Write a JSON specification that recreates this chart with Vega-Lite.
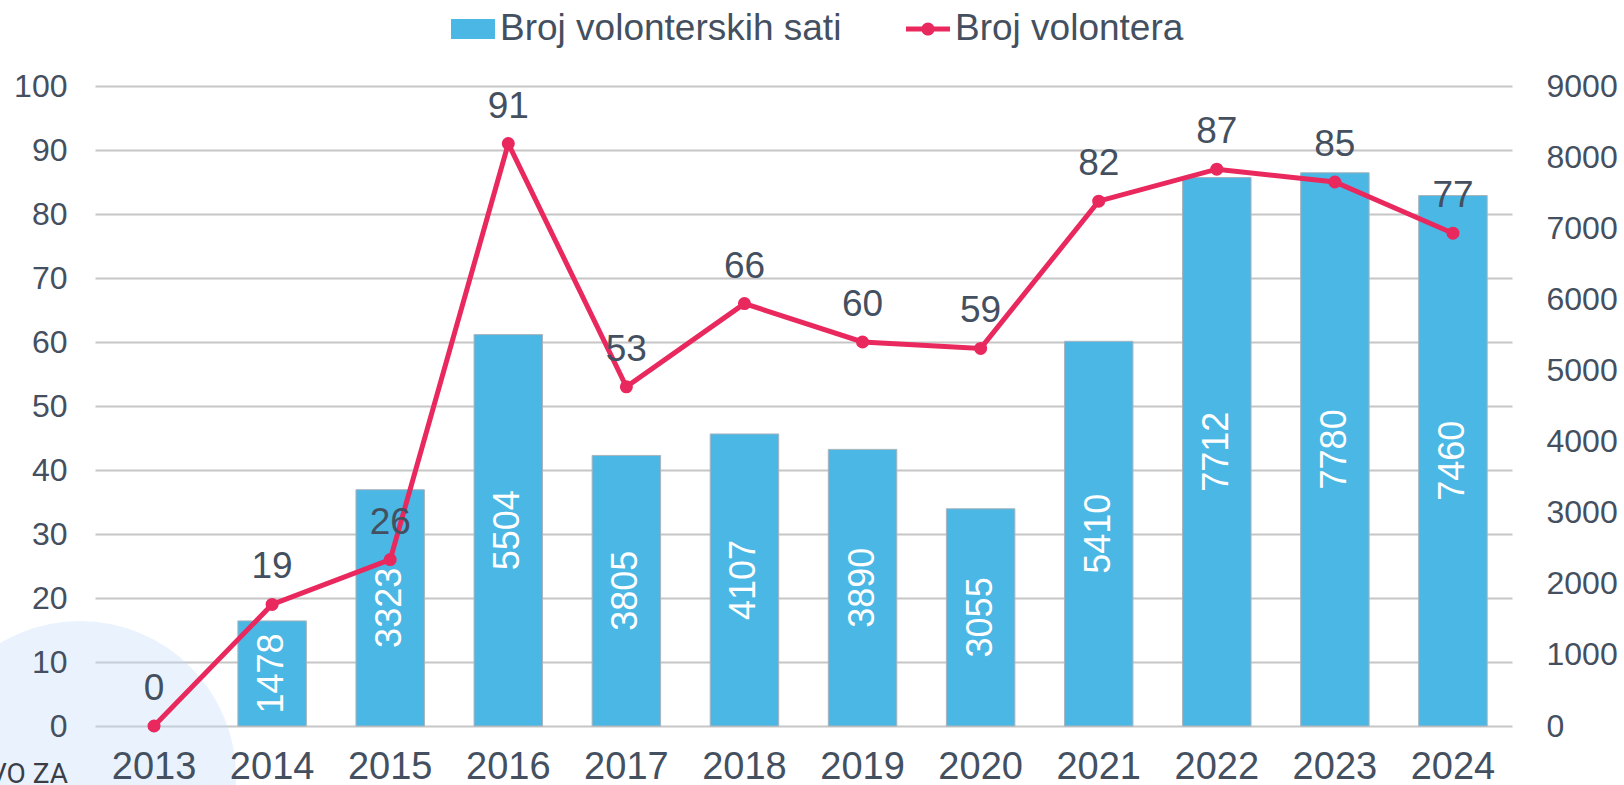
{
  "$schema": "https://vega.github.io/schema/vega-lite/v6.json",
  "width": 1417,
  "height": 640,
  "autosize": {"type": "none"},
  "padding": {"left": 95, "top": 86, "right": 112, "bottom": 59},
  "background": "white",
  "config": {
    "view": {"stroke": null},
    "font": "Liberation Sans",
    "axis": {"labelColor": "#44505F", "labelFont": "Liberation Sans", "ticks": false, "domain": false, "title": null}
  },
  "data": {
    "values": [
      {"year": "2013", "volonteri": 0, "sati": null},
      {"year": "2014", "volonteri": 19, "sati": 1478},
      {"year": "2015", "volonteri": 26, "sati": 3323},
      {"year": "2016", "volonteri": 91, "sati": 5504},
      {"year": "2017", "volonteri": 53, "sati": 3805},
      {"year": "2018", "volonteri": 66, "sati": 4107},
      {"year": "2019", "volonteri": 60, "sati": 3890},
      {"year": "2020", "volonteri": 59, "sati": 3055},
      {"year": "2021", "volonteri": 82, "sati": 5410},
      {"year": "2022", "volonteri": 87, "sati": 7712},
      {"year": "2023", "volonteri": 85, "sati": 7780},
      {"year": "2024", "volonteri": 77, "sati": 7460}
    ]
  },
  "encoding": {
    "x": {
      "field": "year", "type": "nominal", "sort": null,
      "scale": {"paddingInner": 0.42, "paddingOuter": 0.21},
      "axis": {"labelAngle": 0, "labelFontSize": 38, "labelPadding": 22, "grid": false, "zindex": 1}
    }
  },
  "layer": [
    {
      "data": {"values": [{"decor": "circle"}]},
      "mark": {"type": "point", "shape": "circle", "filled": true, "fill": "#C3DDF9", "fillOpacity": 0.35, "opacity": 1, "strokeWidth": 0, "size": 97344, "xOffset": -74},
      "encoding": {
        "x": {"datum": "2013", "type": "nominal"},
        "y": {
          "datum": -7.97, "type": "quantitative",
          "scale": {"domain": [0, 100], "nice": false},
          "axis": {"orient": "left", "values": [0, 10, 20, 30, 40, 50, 60, 70, 80, 90, 100], "labels": false, "grid": true, "gridColor": "#C6C6C6", "gridWidth": 2, "zindex": 0}
        }
      }
    },
    {
      "data": {"values": [{"decor": "text"}]},
      "mark": {"type": "text", "text": "VO ZA", "align": "right", "baseline": "alphabetic", "fontSize": 28, "font": "Roboto", "color": "#3A3F47", "xOffset": -86},
      "encoding": {
        "x": {"datum": "2013", "type": "nominal"},
        "y": {"datum": -8.9, "type": "quantitative", "scale": {"domain": [0, 100], "nice": false}, "axis": null}
      }
    },
    {
      "mark": {"type": "bar", "stroke": "#A9B4BD", "strokeWidth": 1},
      "encoding": {
        "y": {
          "field": "sati", "type": "quantitative",
          "scale": {"domain": [0, 9000], "nice": false},
          "axis": {"orient": "right", "values": [0, 1000, 2000, 3000, 4000, 5000, 6000, 7000, 8000, 9000], "format": "d", "labelFontSize": 32, "labelPadding": 34, "labelAlign": "left", "grid": false}
        },
        "color": {
          "datum": "Broj volonterskih sati",
          "scale": {"domain": ["Broj volonterskih sati", "Broj volontera"], "range": ["#4BB7E5", "#E9285E"]},
          "legend": {
            "title": null,
            "orient": "none",
            "direction": "horizontal",
            "legendX": 356,
            "legendY": -79,
            "padding": 0,
            "labelFontSize": 37,
            "labelColor": "#44505F",
            "labelFont": "Liberation Sans",
            "labelLimit": 800,
            "labelOffset": 5,
            "columnPadding": 64,
            "symbolSize": 1936,
            "symbolStrokeWidth": 0,
            "symbolType": {"expr": "datum.value === 'Broj volontera' ? 'M-1,-0.11H1V0.11H-1Z M-0.3,0A0.3,0.3 0 1,1 0.3,0A0.3,0.3 0 1,1 -0.3,0Z' : 'M-1,-0.46H1V0.46H-1Z'"},
            "encode": {
              "symbols": {
                "shape": {"value": {"expr": "datum.value === 'Broj volontera' ? 'M-1,-0.11H1V0.11H-1Z M-0.3,0A0.3,0.3 0 1,1 0.3,0A0.3,0.3 0 1,1 -0.3,0Z' : 'M-1,-0.46H1V0.46H-1Z'"}},
                "stroke": {"value": "transparent"},
                "opacity": {"value": 1}
              }
            }
          }
        }
      }
    },
    {
      "mark": {"type": "text", "angle": 270, "align": "center", "baseline": "middle", "fontSize": 36, "color": "white"},
      "encoding": {
        "y": {"field": "sati", "type": "quantitative", "scale": {"domain": [0, 18000], "nice": false}, "axis": null},
        "text": {"field": "sati", "type": "quantitative", "format": "d"}
      }
    },
    {
      "encoding": {
        "y": {
          "field": "volonteri", "type": "quantitative",
          "scale": {"domain": [0, 100], "nice": false},
          "axis": {"orient": "left", "values": [0, 10, 20, 30, 40, 50, 60, 70, 80, 90, 100], "labelFontSize": 32, "labelPadding": 28, "grid": false, "zindex": 1}
        }
      },
      "layer": [
        {
          "mark": {"type": "line", "strokeWidth": 5},
          "encoding": {"color": {"datum": "Broj volontera", "legend": null}}
        },
        {
          "mark": {"type": "point", "filled": true, "shape": "circle", "size": 170, "opacity": 1},
          "encoding": {"color": {"datum": "Broj volontera", "legend": null}}
        },
        {
          "mark": {"type": "text", "dy": -37, "baseline": "middle", "align": "center", "fontSize": 37, "color": "#44505F"},
          "encoding": {"text": {"field": "volonteri", "type": "quantitative"}}
        }
      ]
    }
  ],
  "resolve": {"scale": {"y": "independent"}}
}
